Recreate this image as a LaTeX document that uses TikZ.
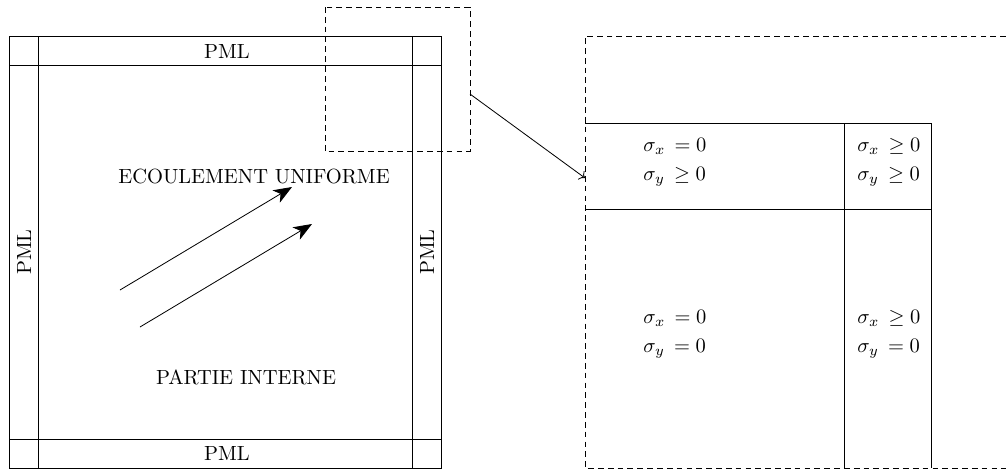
\documentclass[tikz,border=0pt]{standalone}
\usepackage{amsmath,amssymb}
\usetikzlibrary{arrows.meta,positioning}

\begin{document}
\begin{tikzpicture}[x=0.4878pt, y=-0.4878pt,
  lbl/.style={inner sep=0pt},
  flow/.style={-{Stealth[length=9pt,width=7pt,inset=2.5pt]}},
  zoomln/.style={dash pattern=on 2.8pt off 2pt},
  cond/.style={anchor=west, align=left, inner sep=0pt}]
\useasboundingbox (0,0) rectangle (1006,470);
% domaine avec couches PML
\draw (9,36) rectangle (441,468);
\foreach \x in {38,412}{\draw (\x,36) -- (\x,468);}
\foreach \y in {65,439}{\draw (9,\y) -- (441,\y);}
\node[lbl] (pmlN) at (227,51) {PML};
\node[lbl] (pmlS) at (227,453) {PML};
\node[lbl, rotate=90] (pmlW) at (24,252) {PML};
\node[lbl, rotate=90] (pmlE) at (427,252) {PML};
\node[lbl] (ecoul) at (254,176) {ECOULEMENT UNIFORME};
\node[lbl] (part) at (246,377) {PARTIE INTERNE};
% fleches de l'ecoulement
\coordinate (f1s) at (120,290); \coordinate (f1e) at (292,187);
\coordinate (f2s) at (140,327); \coordinate (f2e) at (312,224);
\draw[flow] (f1s) -- (f1e);
\draw[flow] (f2s) -- (f2e);
% zone agrandie
\coordinate (zA) at (325,7); \coordinate (zB) at (470,151);
\draw[zoomln] (zA) rectangle (zB);
\coordinate (zout) at (470,94); \coordinate (zin) at (585,178);
\draw[->] (zout) -- (zin);
\draw[zoomln] (1006,36) -- (585,36) -- (585,468) -- (1006,468);
\draw (585,123) -- (931,123);
\draw (585,209) -- (931,209);
\foreach \x in {844,931}{\draw (\x,123) -- (\x,468);}
\node[cond] (c1) at (643,162) {$\sigma_x\,=0$\\[2pt]$\sigma_y\,\geq0$};
\node[cond] (c2) at (857,162) {$\sigma_x\,\geq0$\\[2pt]$\sigma_y\,\geq0$};
\node[cond] (c3) at (643,334) {$\sigma_x\,=0$\\[2pt]$\sigma_y\,=0$};
\node[cond] (c4) at (857,334) {$\sigma_x\,\geq0$\\[2pt]$\sigma_y\,=0$};
\end{tikzpicture}
\end{document}
